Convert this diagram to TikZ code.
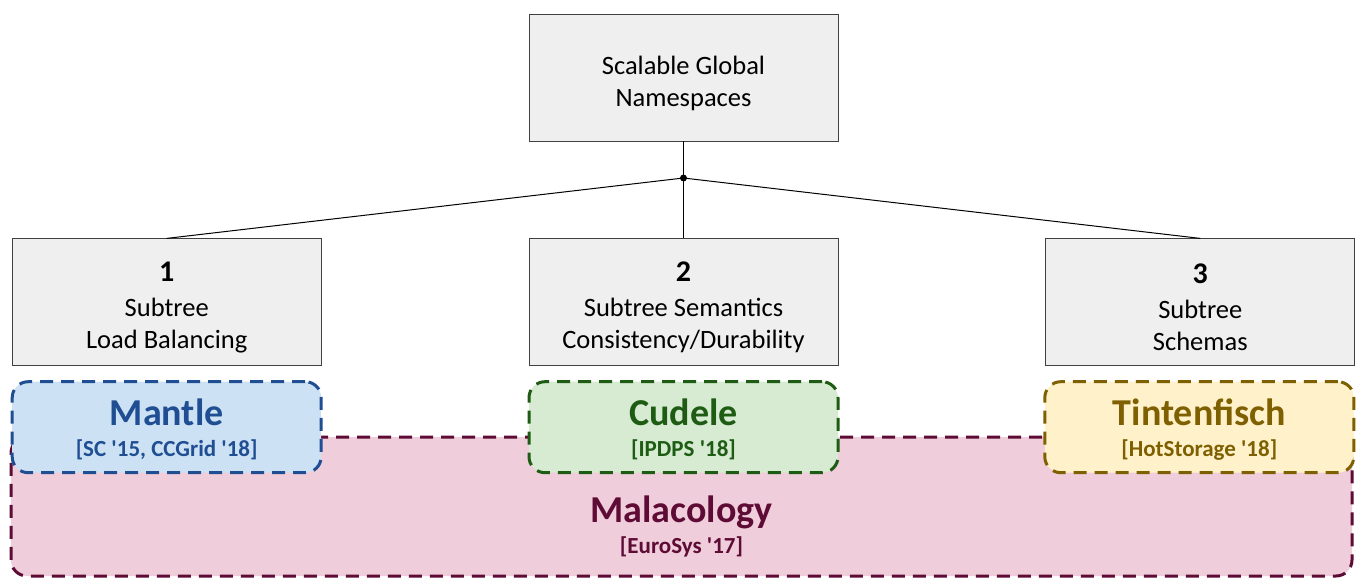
\documentclass[tikz,border=0pt]{standalone}
\usepackage{fontspec}
\setmainfont{Carlito}
\usetikzlibrary{positioning}

\definecolor{boxgray}{HTML}{EFEFEF}
\definecolor{mantleblue}{HTML}{1F4E93}
\definecolor{mantlefill}{HTML}{CCE1F4}
\definecolor{cudelegreen}{HTML}{1E5C14}
\definecolor{cudelefill}{HTML}{D6EBD2}
\definecolor{tintenbrown}{HTML}{7F6000}
\definecolor{tintenfill}{HTML}{FFF2CB}
\definecolor{malapurple}{HTML}{5E0B35}
\definecolor{malafill}{HTML}{F0CDDA}

\newcommand{\projname}[1]{{\fontsize{38}{30}\selectfont #1}}
\newcommand{\subnum}[1]{{\bfseries\fontsize{30}{32}\selectfont #1}}

\begin{document}
\begin{tikzpicture}[x=1pt, y=-1pt, node distance=97pt and 207pt,
    topicbox/.style={draw=black!75, fill=boxgray, line width=0.8pt,
        minimum width=309pt, minimum height=127pt, inner sep=0pt,
        text width=300pt, execute at begin node={\rule{0pt}{30pt}},
        align=flush center, font=\fontsize{26.5}{32}\selectfont},
    projbox/.style={rounded corners=16pt, dash pattern=on 13pt off 8pt,
        line width=3pt, minimum width=309pt, minimum height=91pt,
        inner sep=0pt, text depth=-5.5pt, align=center,
        font=\bfseries\fontsize{23}{30}\selectfont}]
    \useasboundingbox (0,0) rectangle (1361,584);
    % Malacology spans all three subtrees
    \node[projbox, draw=malapurple, fill=malafill, minimum width=1341pt,
        minimum height=139pt] (malacology) at (681.5,506.5) {};
    \node[text=malapurple, align=center, font=\bfseries\fontsize{23}{30}\selectfont]
        (malalabel) at ([yshift=-20pt]malacology.center)
        {\projname{Malacology}\\[1pt][EuroSys \textquotesingle17]};
    % Root and the three subtrees
    \node[topicbox] (root) at (683.5,77.5) {Scalable Global\\Namespaces};
    \node[topicbox, below=of root] (sub2)
        {\subnum{2}\\[3pt]Subtree Semantics\\Consistency/Durability};
    \node[topicbox, left=of sub2] (sub1)
        {\subnum{1}\\[3pt]Subtree\\Load Balancing};
    \node[topicbox, right=of sub2] (sub3)
        {\subnum{3}\\[3pt]Subtree\\Schemas};
    % Tree edges
    \coordinate (junction) at (683.5,178);
    \draw[line width=1pt] (root) -- (junction);
    \draw[line width=1pt] (junction) -- (sub1.north);
    \draw[line width=1pt] (junction) -- (sub2.north);
    \draw[line width=1pt] (junction) -- (sub3.north);
    \fill (junction) circle (3.5pt);
    % Projects below each subtree
    \node[projbox, draw=mantleblue, fill=mantlefill, text=mantleblue,
        below=14pt of sub1] (mantle)
        {\projname{Mantle}\\[1pt][SC \textquotesingle15, CCGrid \textquotesingle18]};
    \node[projbox, draw=cudelegreen, fill=cudelefill, text=cudelegreen,
        below=14pt of sub2] (cudele)
        {\projname{Cudele}\\[1pt][IPDPS \textquotesingle18]};
    \node[projbox, draw=tintenbrown, fill=tintenfill, text=tintenbrown,
        below=14pt of sub3, xshift=-1pt] (tintenfisch)
        {\projname{Tintenfisch}\\[1pt][HotStorage \textquotesingle18]};
\end{tikzpicture}
\end{document}
